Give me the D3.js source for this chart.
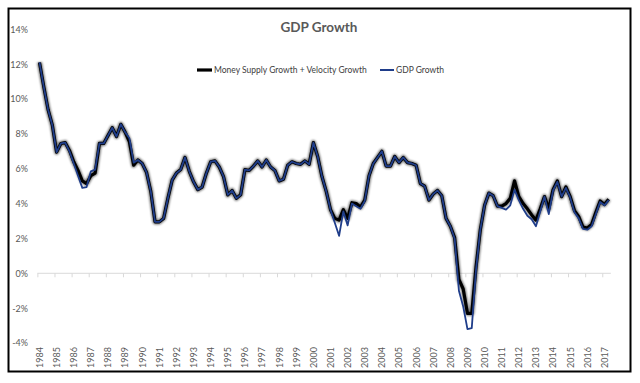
<!DOCTYPE html>
<html><head><meta charset="utf-8">
<script src="https://cdn.jsdelivr.net/npm/d3@7/dist/d3.min.js"></script>
<style>
html,body{margin:0;padding:0;background:#fff;}
svg{display:block;}
text{font-family:Lato,"Open Sans","Liberation Sans",sans-serif;}
</style></head>
<body>
<script>
// ---- data (quarterly, year-over-year %) ----
const years = [1984,1985,1986,1987,1988,1989,1990,1991,1992,1993,1994,1995,1996,1997,1998,1999,2000,2001,2002,2003,2004,2005,2006,2007,2008,2009,2010,2011,2012,2013,2014,2015,2016,2017];
const moneyVelocityGrowth = [
12.1,10.7,9.4,8.5,6.95,7.45,7.5,7.05,6.4,5.9,5.3,5.15,5.6,5.75,7.45,7.45,7.9,8.35,7.85,8.55,
8.1,7.55,6.2,6.5,6.3,5.8,4.7,2.95,2.95,3.15,4.3,5.35,5.75,5.95,6.65,5.85,5.25,4.8,4.95,5.75,
6.4,6.45,6.1,5.55,4.5,4.75,4.3,4.5,5.95,5.9,6.15,6.45,6.1,6.5,6.1,5.9,5.3,5.4,6.2,6.4,
6.3,6.25,6.45,6.25,7.5,6.7,5.55,4.7,3.65,3.15,3.05,3.65,3.15,4.05,4.0,3.8,4.2,5.6,6.3,6.65,
7.0,6.15,6.15,6.7,6.35,6.65,6.35,6.3,6.2,5.15,5.0,4.2,4.55,4.75,4.45,3.15,2.7,2.05,-0.35,-0.9,
-2.3,-2.3,0.35,2.5,3.9,4.6,4.45,3.85,3.85,4.0,4.3,5.3,4.4,4.0,3.7,3.35,3.05,3.7,4.4,3.7,
4.8,5.3,4.4,4.95,4.4,3.6,3.25,2.65,2.6,2.8,3.5,4.15,3.95,4.25];
const gdpGrowth = [
12.1,10.7,9.4,8.5,6.95,7.45,7.5,7.0,6.3,5.6,4.9,4.95,5.85,5.95,7.45,7.45,7.9,8.35,7.85,8.55,
8.1,7.75,6.35,6.5,6.3,5.8,4.7,2.95,2.95,3.15,4.3,5.35,5.75,5.95,6.65,5.85,5.25,4.8,4.95,5.75,
6.4,6.45,6.1,5.55,4.5,4.75,4.3,4.5,5.95,5.9,6.15,6.45,6.1,6.5,6.1,5.9,5.3,5.4,6.2,6.4,
6.3,6.25,6.45,6.25,7.5,6.7,5.55,4.7,3.65,2.9,2.15,3.55,2.75,4.0,3.85,3.7,4.15,5.6,6.3,6.65,
7.0,6.15,6.15,6.7,6.35,6.65,6.35,6.3,6.2,5.15,5.0,4.2,4.55,4.75,4.45,3.15,2.7,2.0,-1.0,-1.9,
-3.2,-3.15,0.2,2.5,3.9,4.6,4.45,3.85,3.75,3.65,3.9,4.8,4.2,3.7,3.3,3.1,2.7,3.55,4.4,3.4,
4.75,5.25,4.4,4.9,4.35,3.5,3.15,2.55,2.5,2.7,3.4,4.1,3.9,4.2];
const yTicks = [-4,-2,0,2,4,6,8,10,12,14];
const seriesNames = ["Money Supply Growth + Velocity Growth","GDP Growth"];
const titleText = "GDP Growth";

// ---- layout ----
const W = 640, H = 383;
const svg = d3.select("body").append("svg").attr("width", W).attr("height", H);

const n = moneyVelocityGrowth.length;
const x = d3.scaleLinear().domain([0, n - 1]).range([39.5, 608.7]);
const y = d3.scaleLinear().domain([-4, 14]).range([343, 29.3]);

// outer frame
svg.append("rect").attr("x", 8.5).attr("y", 8.5).attr("width", 622).attr("height", 363)
  .attr("fill", "#fff").attr("stroke", "#000").attr("stroke-width", 2);

// title
svg.append("text").attr("x", 319).attr("y", 32).attr("text-anchor", "middle")
  .attr("font-size", 13.5).attr("font-weight", "bold").attr("fill", "#595959").text(titleText);

// y axis labels
const yAxis = d3.axisLeft(y).tickValues(yTicks).tickSize(0).tickPadding(0)
  .tickFormat(d => d + "%");
const gy = svg.append("g").attr("transform", "translate(28,0)").call(yAxis);
gy.select(".domain").remove();
gy.selectAll("text").attr("font-size", 9).attr("fill", "#595959")
  .style("font-family", "Lato,'Open Sans',sans-serif");

// zero line with tick marks between categories
const tickIdx = d3.range(-0.5, n, 4);
const zeroAxis = d3.axisBottom(x).tickValues(tickIdx).tickSize(4).tickFormat("").tickSizeOuter(0);
const gz = svg.append("g").attr("transform", `translate(0,${y(0)})`).call(zeroAxis);
gz.select(".domain").attr("stroke", "#d9d9d9").attr("stroke-width", 1)
  .attr("d", `M${x(-0.5)},0H${x(n - 0.5)}`);
gz.selectAll(".tick line").attr("stroke", "#d9d9d9");

// x labels at bottom (low position), rotated to read upward
const labelIdx = years.map((yr, k) => k * 4);
const xAxis = d3.axisBottom(x).tickValues(labelIdx).tickSize(0)
  .tickFormat((d, k) => String(years[k]));
const gx = svg.append("g").attr("transform", "translate(0,345)").call(xAxis);
gx.select(".domain").remove();
gx.selectAll(".tick text").attr("font-size", 9).attr("fill", "#595959")
  .style("font-family", "Lato,'Open Sans',sans-serif")
  .attr("transform", "rotate(-90)").attr("x", -23).attr("y", 0).attr("dy", "0.32em")
  .attr("text-anchor", "start");

// lines
const defs = svg.append("defs");
defs.append("filter").attr("id", "blur").attr("x", "-5%").attr("y", "-5%").attr("width", "110%").attr("height", "110%")
  .append("feGaussianBlur").attr("stdDeviation", 1.1);

const line = d3.line().x((d, i) => x(i)).y(d => y(d)).curve(d3.curveLinear);

svg.append("path").datum(moneyVelocityGrowth).attr("d", line)
  .attr("fill", "none").attr("stroke", "#000").attr("stroke-opacity", 0.55)
  .attr("stroke-width", 5).attr("stroke-linejoin", "round").attr("filter", "url(#blur)");
svg.append("path").datum(moneyVelocityGrowth).attr("d", line)
  .attr("fill", "none").attr("stroke", "#000").attr("stroke-width", 3.2).attr("stroke-linejoin", "round");
svg.append("path").datum(gdpGrowth).attr("d", line)
  .attr("fill", "none").attr("stroke", "#1f3d8a").attr("stroke-width", 1.8).attr("stroke-linejoin", "round");

// legend
const lg = svg.append("g").attr("transform", "translate(0,70)");
lg.append("line").attr("x1", 197).attr("x2", 212).attr("y1", 0).attr("y2", 0)
  .attr("stroke", "#000").attr("stroke-width", 3.2);
lg.append("text").attr("x", 214).attr("y", 3).attr("font-size", 8.5).attr("fill", "#404040")
  .text(seriesNames[0]);
lg.append("line").attr("x1", 380).attr("x2", 394).attr("y1", 0).attr("y2", 0)
  .attr("stroke", "#1f3d8a").attr("stroke-width", 2);
lg.append("text").attr("x", 396).attr("y", 3).attr("font-size", 8.5).attr("fill", "#404040")
  .text(seriesNames[1]);
</script>
</body></html>
